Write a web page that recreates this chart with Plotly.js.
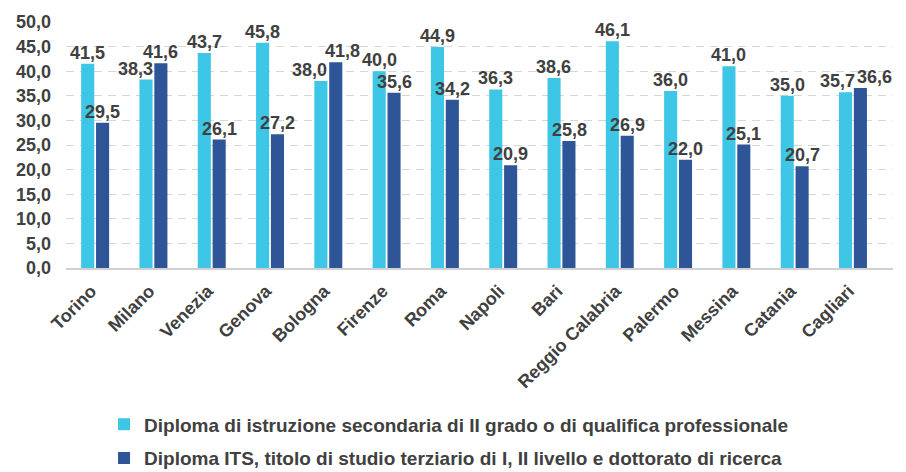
<!DOCTYPE html>
<html>
<head>
<meta charset="utf-8">
<script src="https://cdn.plot.ly/plotly-3.0.1.min.js"></script>
<style>
  html, body { margin: 0; padding: 0; background: #ffffff; }
  #chart { width: 906px; height: 472px; }
</style>
</head>
<body>
<div id="chart"></div>
<script>
// Cities on the category axis
const cities = ["Torino", "Milano", "Venezia", "Genova", "Bologna", "Firenze", "Roma",
                "Napoli", "Bari", "Reggio Calabria", "Palermo", "Messina", "Catania", "Cagliari"];

// Series names
const seriesSecondary = "Diploma di istruzione secondaria di II grado o di qualifica professionale";
const seriesTertiary = "Diploma ITS, titolo di studio terziario di I, II livello e dottorato di ricerca";

// Values per city
const secondaryValues = [41.5, 38.3, 43.7, 45.8, 38.0, 40.0, 44.9, 36.3, 38.6, 46.1, 36.0, 41.0, 35.0, 35.7];
const tertiaryValues  = [29.5, 41.6, 26.1, 27.2, 41.8, 35.6, 34.2, 20.9, 25.8, 26.9, 22.0, 25.1, 20.7, 36.6];

// Y axis ticks
const yTickVals = [0, 5, 10, 15, 20, 25, 30, 35, 40, 45, 50];

const fmt = v => v.toFixed(1).replace(".", ",");

const textColor = "#404040";
const fontFamily = "Liberation Sans, Arial, sans-serif";
const colors = ["#3EC6E6", "#2E5597"];

// Bar layout: each group takes 51% of the category slot, split into two bars
const bargap = 0.49;
const bargroupgap = 0.12;
const plotWidthPx = 906 - 66 - 13;
const slotPx = plotWidthPx / cities.length;
const barCenterPx = slotPx * (1 - bargap) / 4;   // distance of each bar's centre from the category centre

// Extra horizontal nudges for value labels that would collide with their neighbour
const labelNudge = [
  { Milano: -10, Bologna: -11, Cagliari: -8 },
  { Bologna: 7, Cagliari: 14 }
];

const series = [
  { name: seriesSecondary, values: secondaryValues },
  { name: seriesTertiary, values: tertiaryValues }
];

const data = series.map((s, i) => ({
  type: "bar",
  name: s.name,
  legendgroup: "g" + i,
  x: cities,
  y: s.values,
  marker: { color: colors[i] },
  hoverinfo: "x+y"
}));

// Value labels above each bar
const annotations = [];
series.forEach((s, i) => {
  const side = i === 0 ? -1 : 1;
  s.values.forEach((v, j) => {
    annotations.push({
      x: cities[j],
      y: v,
      xref: "x",
      yref: "y",
      text: fmt(v),
      showarrow: false,
      xanchor: "center",
      yanchor: "bottom",
      xshift: side * barCenterPx + (labelNudge[i][cities[j]] || 0),
      yshift: 0,
      borderpad: 0,
      font: { family: fontFamily, size: 18, color: textColor, weight: "bold" }
    });
  });
});

const layout = {
  width: 906,
  height: 472,
  margin: { l: 66, r: 13, t: 22, b: 204, autoexpand: false },
  paper_bgcolor: "#ffffff",
  plot_bgcolor: "#ffffff",
  barmode: "group",
  bargap: bargap,
  bargroupgap: bargroupgap,
  font: { family: fontFamily, color: textColor },
  annotations: annotations,
  xaxis: {
    type: "category",
    tickangle: -45,
    tickfont: { family: fontFamily, size: 18, color: textColor, weight: "bold" },
    ticklabelstandoff: 4,
    ticklabelshift: -4,
    showline: true,
    linecolor: "#D0D0D0",
    linewidth: 1.5,
    ticks: "",
    showgrid: false,
    automargin: false
  },
  yaxis: {
    range: [0, 50],
    tickvals: yTickVals,
    ticktext: yTickVals.map(fmt),
    tickfont: { family: fontFamily, size: 18, color: textColor, weight: "bold" },
    ticklabelstandoff: 14,
    showgrid: true,
    gridcolor: "#D6D6D6",
    griddash: "8px,6px",
    gridwidth: 1,
    zeroline: false,
    showline: false,
    ticks: "",
    automargin: false
  },
  showlegend: true,
  legend: {
    orientation: "v",
    x: 0.046,
    xanchor: "left",
    y: -0.705,
    yanchor: "middle",
    traceorder: "grouped",
    tracegroupgap: 6,
    font: { family: fontFamily, size: 19, color: textColor, weight: "bold" }
  }
};

Plotly.newPlot("chart", data, layout, { displayModeBar: false, staticPlot: true });
</script>
</body>
</html>
